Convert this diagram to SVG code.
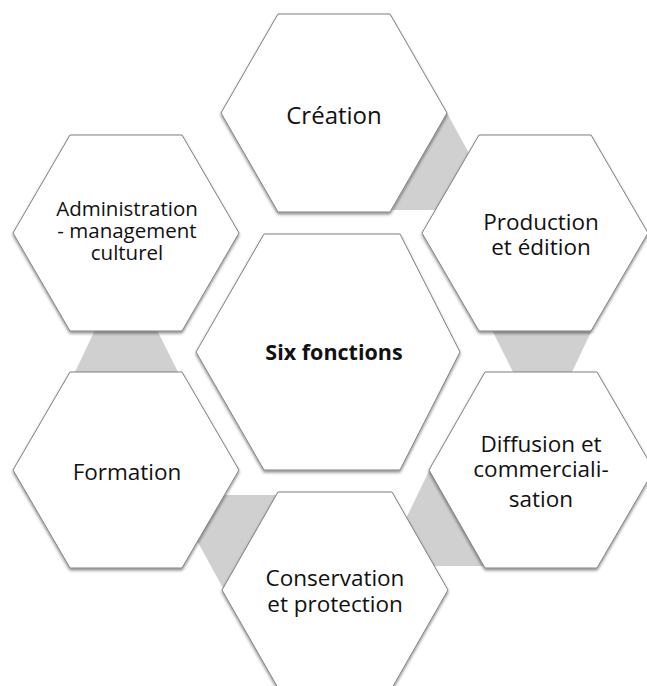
<svg xmlns="http://www.w3.org/2000/svg" width="647" height="686" viewBox="0 0 647 686">
<defs>
<filter id="sh" x="-10%" y="-10%" width="120%" height="125%">
<feDropShadow dx="0" dy="2" stdDeviation="1.6" flood-color="#000" flood-opacity="0.45"/>
</filter>
<style>
.hex{fill:#ffffff;stroke:#808080;stroke-width:1;filter:url(#sh);}
.con{fill:#d0d0d0;stroke:none;}
.t{font-family:"Open Sans","Liberation Sans",sans-serif;fill:#111;text-anchor:middle;}
</style>
</defs>
<rect width="647" height="686" fill="#ffffff"/>
<g id="connectors">
<polygon class="con" points="447,113 392,210 500,210"/>
<polygon class="con" points="492,330 592,330 572,372 513,372"/>
<polygon class="con" points="430,469 383,566 486,566"/>
<polygon class="con" points="172,495 285,495 224,590"/>
<polygon class="con" points="95,330 157,330 178,372 75,372"/>
</g>
<g id="creation">
<polygon class="hex" points="221,113 278,14 390,14 447,113 390,212 278,212"/>
<text class="t" x="334" y="124" font-size="24">Création</text>
</g>
<g id="production">
<polygon class="hex" points="422,233 479,135 591,135 648,233 591,331 479,331"/>
<text class="t" x="541" y="230" font-size="22.5">Production</text>
<text class="t" x="541" y="255" font-size="22.5">et édition</text>
</g>
<g id="administration">
<polygon class="hex" points="13,233 70,135 182,135 239,233 182,331 70,331"/>
<text class="t" x="127" y="216" font-size="20.5">Administration</text>
<text class="t" x="127" y="238" font-size="20.5">- management</text>
<text class="t" x="127" y="260" font-size="20.5">culturel</text>
</g>
<g id="center">
<polygon class="hex" points="196,352 264,234 400,234 460,352 400,470 264,470"/>
<text class="t" x="334" y="360" font-size="21.5" font-weight="bold">Six fonctions</text>
</g>
<g id="formation">
<polygon class="hex" points="13,470 70,372 182,372 239,470 182,568 70,568"/>
<text class="t" x="127" y="480" font-size="22.5">Formation</text>
</g>
<g id="diffusion">
<polygon class="hex" points="429,470 485,372 597,372 654,470 597,568 485,568"/>
<text class="t" x="541" y="452" font-size="22.5">Diffusion et</text>
<text class="t" x="541" y="477" font-size="22.5">commerciali-</text>
<text class="t" x="541" y="507" font-size="22.5">sation</text>
</g>
<g id="conservation">
<polygon class="hex" points="222,590 278,492 392,492 448,590 392,688 278,688"/>
<text class="t" x="335" y="586" font-size="22.5">Conservation</text>
<text class="t" x="335" y="612" font-size="22.5">et protection</text>
</g>
</svg>
